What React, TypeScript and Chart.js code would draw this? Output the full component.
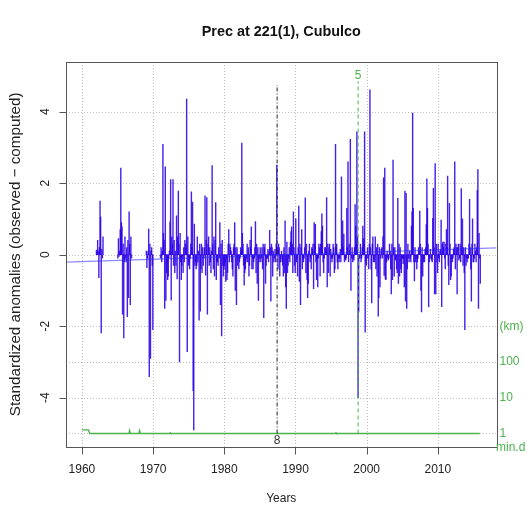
import React, { useEffect, useRef } from 'react';
import { Chart, registerables } from 'chart.js';

Chart.register(...registerables);

// ---------- texts ----------
const TITLE = 'Prec at 221(1), Cubulco';
const X_LABEL = 'Years';
const Y_LABEL = 'Standardized anomalies (observed \u2212 computed)';

// ---------- axes ----------
const X_MIN = 1957.76;
const X_MAX = 2018.24;
const Y_MIN = -5.37;
const Y_MAX = 5.39;
const X_TICKS = [1960, 1970, 1980, 1990, 2000, 2010];
const Y_TICKS = [-4, -2, 0, 2, 4];
const Y_GRID = [-5, -4, -3, -2, 0, 2, 4];
const DIST_TICK_VALUES = [-5, -4, -3, -2];
const DIST_TICK_LABELS = ['1', '10', '100', '(km)'];
const DIST_AXIS_NAME = 'min.d';

// ---------- monthly standardized anomalies (rows = years, Jan..Dec) ----------
const FIRST_YEAR = 1962;
const N = null;
const ANOMALIES: (number | null)[][] = [
  [0.13, 0.05, 0.4, 0.1, -0.64, 0.2, 1.5, 1.05, -2.19, 0.15, -0.1, 0.5], // 1962
  [N, N, N, N, N, N, N, N, N, N, N, N], // 1963
  [N, N, N, N, N, N, N, N, N, N, N, N], // 1964
  [-0.1, 0.45, -0.05, 0.1, 0.7, 2.42, 0.9, 0.78, -1.66, 0.3, -2.33, -0.2], // 1965
  [0.5, -0.1, -0.2, 0.2, -1.73, 0.4, -1.2, 1.2, 0.3, -1.4, 0.5, -0.1], // 1966
  [N, N, N, N, N, N, N, N, N, N, N, N], // 1967
  [N, N, N, N, N, N, N, N, N, N, N, N], // 1968
  [0.1, -0.36, -0.1, 0.1, 0.72, -3.41, 0.3, -2.9, 0.1, 0.2, -0.3, -2.1], // 1969
  [N, N, N, N, N, N, N, N, N, N, N, N], // 1970
  [-0.1, 0.2, -0.2, 0.1, 3.09, 0.6, 0.4, -1.5, 2.46, -1.28, -0.5, -0.2], // 1971
  [-0.7, -0.6, -0.1, 0.1, 0.92, 2.1, -1.27, 0.5, 0.3, 2.1, -0.3, 0.4], // 1972
  [-0.5, 0.1, -0.3, 1.09, -0.68, 0.5, 1.78, 0.3, -3.0, 0.6, -0.2, -0.7], // 1973
  [-0.3, -0.1, -0.5, 0.2, -0.2, 0.4, 0.3, 0.2, 4.35, -2.71, 0.5, -0.3], // 1974
  [-0.2, -0.4, -0.1, 0.3, 1.76, 0.2, 1.47, -3.8, -4.9, 0.86, -0.3, -0.2], // 1975
  [-0.4, -0.3, 0.5, -0.2, 0.1, -1.83, 0.3, -1.58, -0.4, 0.3, -0.5, 0.2], // 1976
  [-0.3, -0.1, 0.2, 1.65, -0.57, 0.4, 1.6, -1.66, 0.3, 0.5, -0.3, 0.2], // 1977
  [-0.2, -0.5, 0.1, 2.49, 0.3, -0.4, 0.5, -0.6, 0.4, 1.46, -0.7, -0.2], // 1978
  [-0.2, -0.3, 0.2, -0.1, 0.9, -1.4, 0.3, -2.27, 0.4, -0.3, -0.6, -0.4], // 1979
  [-0.3, -0.2, -0.75, -0.1, -0.7, -0.5, 0.3, 0.7, -0.2, 0.3, 0.2, 0.1], // 1980
  [-0.2, -0.4, -0.6, 0.2, 0.3, 0.9, -1.0, 0.2, -1.4, 0.2, -0.3, -0.1], // 1981
  [-0.4, -0.2, -0.1, 0.2, 0.1, 3.12, 0.6, 0.3, -0.3, -0.85, -0.5, -0.4], // 1982
  [-0.2, -0.1, 0.3, -0.2, 0.2, -0.6, -0.3, 0.4, 0.2, 0.78, -0.4, -0.1], // 1983
  [-0.4, -0.2, -0.1, 0.2, 0.93, -0.5, 0.3, -0.8, 0.2, -1.28, -0.2, -0.1], // 1984
  [0.2, -0.2, -0.1, 0.2, -0.4, 0.3, -1.76, 0.2, 0.3, -0.8, -0.3, -0.1], // 1985
  [-0.1, 0.15, -0.2, 0.1, 0.68, 0.2, -1.3, 0.3, 0.2, -0.6, 0.1, -0.2], // 1986
  [-0.1, 0.15, -0.2, 0.3, 2.51, 0.2, -0.4, 0.3, 0.2, -0.6, -0.2, -0.1], // 1987
  [0.1, -0.2, -0.3, -0.6, 0.2, -0.5, 0.95, -0.9, -1.5, 0.35, -0.5, -0.3], // 1988
  [-0.1, 0.2, -0.2, 0.35, 0.65, 0.78, 0.3, -0.5, 1.2, 0.2, -0.3, -0.5], // 1989
  [1.0, -0.2, -0.1, -0.6, 0.2, 1.36, -0.75, 0.3, -1.4, 0.2, 0.7, -0.4], // 1990
  [-0.1, -0.2, -0.1, 0.2, 1.59, -0.5, 0.3, -0.7, -1.2, -0.8, 0.1, 0.3], // 1991
  [-0.2, -0.1, -0.4, 0.2, 0.15, 0.3, -0.95, 0.9, 0.3, 0.85, -0.2, -0.7], // 1992
  [-0.1, -0.9, -0.1, 0.3, 0.2, -0.6, 0.3, 0.65, 1.14, 0.8, -0.2, -0.5], // 1993
  [-0.1, 0.2, 0.2, 0.1, 1.6, -0.9, 0.3, -0.5, 0.2, 0.3, -0.6, 0.15], // 1994
  [-0.1, -0.2, -0.1, 0.3, 0.2, -0.5, -0.4, 3.09, 0.2, 0.3, -0.2, -0.4], // 1995
  [-0.1, -0.2, -0.1, 0.15, -0.2, 2.18, 0.3, 0.95, 0.2, 0.58, -0.2, -0.1], // 1996
  [-0.15, -0.1, 1.3, 0.2, 2.6, -0.2, 0.3, 0.1, 3.23, -1.0, -0.1, 0.2], // 1997
  [-0.2, -0.1, -0.15, 0.2, 1.4, 0.8, 0.3, 3.44, 0.5, -4.0, -1.6, -0.1], // 1998
  [-0.1, 0.3, -0.2, -0.1, 0.2, 0.8, 0.45, 0.3, 3.44, -2.17, -0.2, -0.3], // 1999
  [-0.1, 0.2, -0.1, -0.4, 0.3, 4.61, 0.2, -0.4, -1.35, 0.3, 0.5, -0.2], // 2000
  [-0.1, -0.2, 0.5, -0.4, 0.2, -0.6, 0.3, -1.72, -1.2, 0.2, -0.9, -0.1], // 2001
  [0.15, 0.2, -0.1, 0.5, 2.15, -0.58, 2.42, -0.68, -0.7, -0.2, 0.1, -0.1], // 2002
  [-0.15, -0.1, 0.3, 0.1, -0.4, -1.1, 0.3, -0.7, 2.65, 0.2, -0.6, 0.2], // 2003
  [-0.15, -0.1, -0.4, -0.5, 1.58, -0.8, 0.3, -0.6, 0.2, -0.4, -0.5, -0.1], // 2004
  [-0.1, -0.25, -0.1, -0.9, 1.78, -1.3, 1.72, -1.5, -0.4, 0.3, -0.1, -0.2], // 2005
  [0.1, -0.1, -0.2, 0.8, 1.2, 3.96, 1.3, -0.2, -0.73, 0.2, -0.2, -0.1], // 2006
  [-0.4, -0.2, -0.1, 0.2, 0.1, 1.22, 0.3, -1.0, -1.6, 0.2, -0.6, -0.2], // 2007
  [-0.1, -0.2, 0.15, 0.2, 0.84, 2.12, 1.3, 0.3, -1.45, -0.2, -0.1, 0.15], // 2008
  [-0.1, -0.15, -0.2, 1.02, 1.86, 0.2, -1.1, 2.55, -1.1, 0.3, -0.2, -0.5], // 2009
  [0.3, -0.1, -0.2, 0.1, 0.15, 0.97, -1.45, 0.3, 0.35, 0.2, 0.35, -0.1], // 2010
  [-0.4, 0.3, 0.7, 0.2, 2.2, -0.3, -0.84, 1.44, 0.3, -0.7, -0.6, -0.1], // 2011
  [-0.2, -0.1, 0.15, 0.2, 2.6, -0.4, 0.3, 0.2, -1.1, 0.2, 0.3, -0.15], // 2012
  [-0.1, 0.3, -0.2, 1.85, 0.2, 1.0, -0.3, 0.2, -0.5, -2.1, 0.2, -0.3], // 2013
  [-0.1, -0.2, -0.1, -0.1, 0.3, 1.55, 0.2, -0.4, -1.3, 0.3, 1.0, -0.2], // 2014
  [-0.2, -0.1, 0.3, 0.1, -0.2, 0.2, 1.8, 2.38, -1.5, 0.6, -0.1, -0.8], // 2015
];

// ---------- trend line ----------
const TREND_YEARS = [1957.76, 2018.24];
const TREND_VALUES = [-0.205, 0.19];

// ---------- minimum distance line (log km mapped to -5..-2) ----------
const DIST_YEARS = [1960.0, 1960.9, 1961.1, 1966.6, 1966.7, 1966.8, 1968.0, 1968.1, 1968.2, 1972.3, 1972.4, 1972.5, 1995.6, 1995.7, 1995.8, 2015.9];
const DIST_VALUES = [-4.9, -4.9, -5.0, -5.0, -4.92, -5.0, -5.0, -4.92, -5.0, -5.0, -4.98, -5.0, -5.0, -4.98, -5.0, -5.0];

// ---------- break marks ----------
const BREAK_YEARS = [1987.42, 1998.8];
const BREAK_TOPS = [4.75, 4.85];
const BREAK_LABELS = ['8', '5'];

// ---------- styles ----------
const BAR_COLOR = 'rgba(46,0,230,0.88)';
const TREND_COLOR = 'rgba(40,40,255,0.55)';
const GREEN = 'rgb(76,178,76)';
const BREAK_COLORS = ['#222222', GREEN];
const BREAK_DASHES = [[4, 2, 1, 2], [4, 3]];
const FONT = '"Liberation Sans", Arial, Helvetica, sans-serif';

const W = 527;
const H = 508;

const rPlot = {
  id: 'rPlot',
  beforeDatasetsDraw(chart: any) {
    const { ctx, chartArea: a } = chart;
    const xs = chart.scales.x;
    const ys = chart.scales.y;
    ctx.save();
    ctx.strokeStyle = '#bdbdbd';
    ctx.lineWidth = 1;
    ctx.setLineDash([1, 2]);
    X_TICKS.forEach((v) => {
      const px = Math.round(xs.getPixelForValue(v)) + 0.5;
      ctx.beginPath();
      ctx.moveTo(px, a.top);
      ctx.lineTo(px, a.bottom);
      ctx.stroke();
    });
    Y_GRID.forEach((v) => {
      const py = Math.round(ys.getPixelForValue(v)) + 0.5;
      ctx.beginPath();
      ctx.moveTo(a.left, py);
      ctx.lineTo(a.right, py);
      ctx.stroke();
    });
    ctx.restore();
  },
  afterDraw(chart: any) {
    const { ctx, chartArea: a } = chart;
    const xs = chart.scales.x;
    const ys = chart.scales.y;
    ctx.save();
    ctx.setLineDash([]);
    ctx.strokeStyle = '#555555';
    ctx.lineWidth = 1;
    const l = Math.round(a.left) + 0.5;
    const t = Math.round(a.top) + 0.5;
    const r = Math.round(a.right) + 0.5;
    const b = Math.round(a.bottom) + 0.5;
    ctx.strokeRect(l, t, r - l, b - t);
    // tick marks
    ctx.beginPath();
    X_TICKS.forEach((v) => {
      const px = Math.round(xs.getPixelForValue(v)) + 0.5;
      ctx.moveTo(px, b);
      ctx.lineTo(px, b + 7);
    });
    Y_TICKS.forEach((v) => {
      const py = Math.round(ys.getPixelForValue(v)) + 0.5;
      ctx.moveTo(l, py);
      ctx.lineTo(l - 7, py);
    });
    ctx.stroke();

    // title
    ctx.fillStyle = '#111111';
    ctx.textAlign = 'center';
    ctx.textBaseline = 'middle';
    ctx.font = `bold 14.4px ${FONT}`;
    ctx.fillText(TITLE, (a.left + a.right) / 2, 32);

    // x tick labels
    ctx.font = `12px ${FONT}`;
    ctx.fillStyle = '#222222';
    X_TICKS.forEach((v) => {
      ctx.fillText(String(v), xs.getPixelForValue(v), 469.5);
    });
    ctx.fillText(X_LABEL, (a.left + a.right) / 2, 499);

    // y tick labels (rotated)
    Y_TICKS.forEach((v) => {
      ctx.save();
      ctx.translate(46, ys.getPixelForValue(v));
      ctx.rotate(-Math.PI / 2);
      ctx.fillText(String(v), 0, 0);
      ctx.restore();
    });
    ctx.save();
    ctx.font = `15.2px ${FONT}`;
    ctx.translate(16, (a.top + a.bottom) / 2);
    ctx.rotate(-Math.PI / 2);
    ctx.fillText(Y_LABEL, 0, 0);
    ctx.restore();

    // break labels
    BREAK_YEARS.forEach((yr, i) => {
      ctx.fillStyle = i === 0 ? '#333333' : GREEN;
      const px = xs.getPixelForValue(yr);
      const py = i === 0 ? ys.getPixelForValue(-5) + 7 : ys.getPixelForValue(BREAK_TOPS[i]) - 6;
      ctx.fillText(BREAK_LABELS[i], px, py);
    });

    // distance axis labels (right)
    ctx.fillStyle = GREEN;
    ctx.textAlign = 'left';
    DIST_TICK_VALUES.forEach((v, i) => {
      ctx.fillText(DIST_TICK_LABELS[i], a.right + 3, ys.getPixelForValue(v));
    });
    ctx.fillText(DIST_AXIS_NAME, a.right - 0.5, a.bottom + 1);
    ctx.restore();
  },
};

export default function App() {
  const canvasRef = useRef<HTMLCanvasElement | null>(null);

  useEffect(() => {
    document.body.style.margin = '0';
    const canvas = canvasRef.current;
    if (!canvas) return;

    const bars: { x: number; y: number }[] = [];
    ANOMALIES.forEach((row, i) => {
      row.forEach((v, m) => {
        if (v !== null) bars.push({ x: FIRST_YEAR + i + (m + 0.5) / 12, y: v });
      });
    });

    const datasets: any[] = [
      {
        type: 'bar',
        data: bars,
        backgroundColor: BAR_COLOR,
        borderWidth: 0,
        barThickness: 0.75,
        grouped: false,
        order: 10,
      },
      {
        type: 'line',
        data: TREND_YEARS.map((x, i) => ({ x, y: TREND_VALUES[i] })),
        borderColor: TREND_COLOR,
        borderWidth: 1.3,
        pointRadius: 0,
        order: 9,
      },
      {
        type: 'line',
        data: DIST_YEARS.map((x, i) => ({ x, y: DIST_VALUES[i] })),
        borderColor: GREEN,
        borderWidth: 1.4,
        pointRadius: 0,
        tension: 0,
        order: 8,
      },
    ];
    BREAK_YEARS.forEach((yr, i) => {
      datasets.push({
        type: 'line',
        data: [
          { x: yr, y: -5 },
          { x: yr, y: BREAK_TOPS[i] },
        ],
        borderColor: BREAK_COLORS[i],
        borderWidth: 1,
        borderDash: BREAK_DASHES[i],
        pointRadius: 0,
        order: 7 - i,
      });
    });

    const chart = new Chart(canvas, {
      type: 'bar',
      data: { datasets },
      options: {
        responsive: false,
        animation: false,
        events: [],
        devicePixelRatio: 1,
        layout: { padding: { left: 66, top: 62, right: 30.5, bottom: 61.3 } },
        plugins: { legend: { display: false }, title: { display: false }, tooltip: { enabled: false } },
        scales: {
          x: { type: 'linear', min: X_MIN, max: X_MAX, offset: false, display: false },
          y: { type: 'linear', min: Y_MIN, max: Y_MAX, display: false },
        },
      } as any,
      plugins: [rPlot],
    });
    return () => chart.destroy();
  }, []);

  return (
    <div style={{ position: 'fixed', left: 0, top: 0, width: W, height: H, background: '#ffffff' }}>
      <canvas ref={canvasRef} width={W} height={H} style={{ display: 'block' }} />
    </div>
  );
}
